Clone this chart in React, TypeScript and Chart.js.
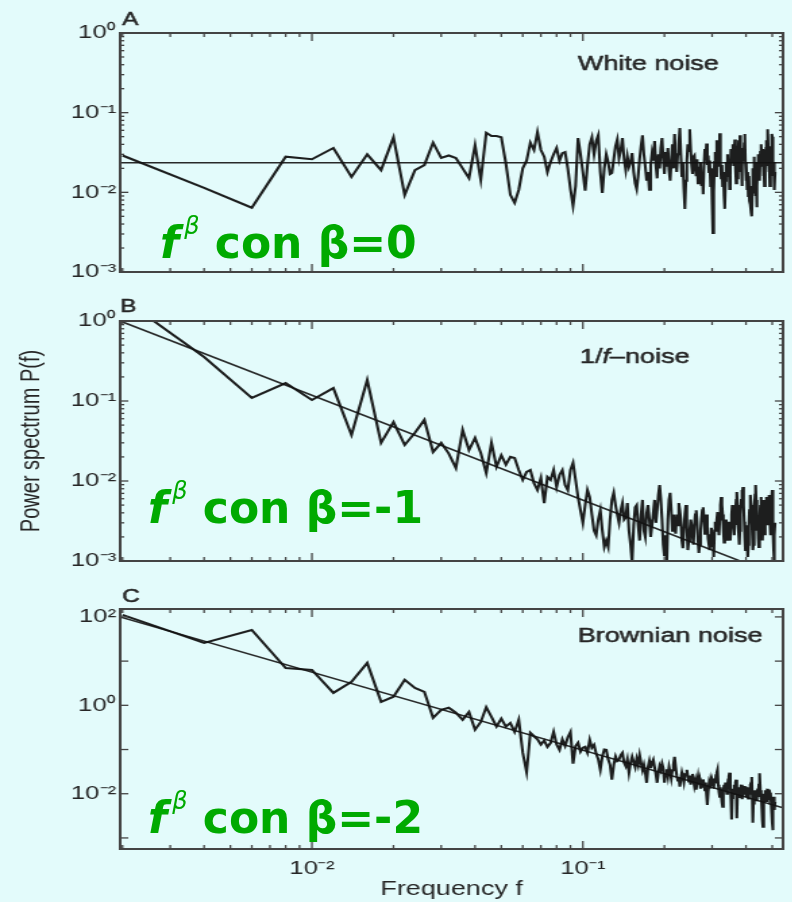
import React, { useEffect, useRef } from "react";
import { Chart, registerables } from "chart.js";

Chart.register(...registerables);

// ---------------- data ----------------
// spectral resolution of the three periodograms: f = k * 0.002, k = 1..256
const FREQ_STEP = 0.002;

const WHITE_NOISE = [
  0.029, 0.0114, 0.0064, 0.028, 0.026, 0.036, 0.0156, 0.030, 0.019, 0.049,
  0.0093, 0.019, 0.022, 0.042, 0.027, 0.029, 0.027, 0.020, 0.0151, 0.039,
  0.0143, 0.056, 0.051, 0.051, 0.049, 0.023, 0.0093, 0.0074, 0.0107, 0.020,
  0.025, 0.042, 0.034, 0.057, 0.034, 0.028, 0.018, 0.024, 0.030, 0.036,
  0.025, 0.031, 0.032, 0.020, 0.011, 0.0068, 0.012, 0.048, 0.030, 0.018,
  0.0105, 0.022, 0.040, 0.049, 0.030, 0.044, 0.052, 0.018, 0.0098, 0.020,
  0.030, 0.024, 0.017, 0.0175, 0.026, 0.038, 0.046, 0.027, 0.034, 0.048,
  0.026, 0.019, 0.028, 0.021, 0.024, 0.031, 0.018, 0.013, 0.011, 0.016,
  0.026, 0.038, 0.052, 0.030, 0.021, 0.014, 0.018, 0.0108, 0.022, 0.031,
  0.025, 0.044, 0.022, 0.015, 0.030, 0.020, 0.036, 0.048, 0.026, 0.017,
  0.032, 0.021, 0.036, 0.019, 0.014, 0.024, 0.040, 0.020, 0.054, 0.028,
  0.018, 0.030, 0.041, 0.064, 0.030, 0.016, 0.024, 0.011, 0.0062, 0.014,
  0.025, 0.040, 0.033, 0.062, 0.035, 0.022, 0.017, 0.028, 0.029, 0.020,
  0.016, 0.026, 0.013, 0.021, 0.015, 0.024, 0.012, 0.018, 0.0095, 0.022,
  0.035, 0.026, 0.041, 0.022, 0.029, 0.018, 0.025, 0.012, 0.020, 0.0075,
  0.0031, 0.010, 0.024, 0.032, 0.016, 0.045, 0.027, 0.038, 0.021, 0.055,
  0.024, 0.015, 0.022, 0.012, 0.018, 0.009, 0.0062, 0.014, 0.024, 0.019,
  0.030, 0.016, 0.026, 0.011, 0.021, 0.035, 0.032, 0.024, 0.040, 0.022,
  0.034, 0.046, 0.020, 0.013, 0.026, 0.015, 0.031, 0.045, 0.022, 0.052,
  0.018, 0.028, 0.012, 0.021, 0.036, 0.025, 0.041, 0.054, 0.024, 0.014,
  0.022, 0.011, 0.018, 0.009, 0.016, 0.0078, 0.012, 0.0070, 0.0055, 0.0050,
  0.010, 0.020, 0.015, 0.028, 0.013, 0.024, 0.009, 0.016, 0.0065, 0.012,
  0.022, 0.030, 0.018, 0.026, 0.014, 0.033, 0.021, 0.040, 0.025, 0.034,
  0.034, 0.016, 0.024, 0.012, 0.028, 0.019, 0.036, 0.045, 0.022, 0.055,
  0.062, 0.030, 0.018, 0.026, 0.012, 0.022, 0.038, 0.027, 0.054, 0.050,
  0.030, 0.016, 0.024, 0.012, 0.0107, 0.018,
];

const PINK_NOISE = [
  1.9, 0.355, 0.109, 0.168, 0.103, 0.145, 0.0376, 0.183, 0.030, 0.0546,
  0.0282, 0.040, 0.058, 0.023, 0.030, 0.022, 0.0145, 0.0435, 0.0244, 0.0345,
  0.0224, 0.0126, 0.030, 0.015, 0.021, 0.016, 0.020, 0.0194, 0.0137, 0.0103,
  0.0130, 0.0137, 0.0094, 0.0077, 0.0109, 0.0053, 0.0112, 0.0103, 0.0137, 0.0084,
  0.0119, 0.0137, 0.0089, 0.0077, 0.0137, 0.0168, 0.0103, 0.0063, 0.0043, 0.0030,
  0.0050, 0.0077, 0.0063, 0.0038, 0.0024, 0.0021, 0.0033, 0.0043, 0.0024, 0.0015,
  0.0018, 0.0015, 0.0033, 0.0058, 0.0071, 0.0050, 0.0038, 0.0030, 0.0043, 0.0053,
  0.0033, 0.0035, 0.0053, 0.0024, 0.0016, 0.00095, 0.0028, 0.0047, 0.0050, 0.0028,
  0.0018, 0.0038, 0.0058, 0.0024, 0.0020, 0.0040, 0.0050, 0.0033, 0.0020, 0.0028,
  0.0040, 0.0058, 0.0030, 0.0043, 0.0067, 0.0089, 0.0058, 0.0033, 0.0016, 0.00115,
  0.0021, 0.00095, 0.0033, 0.0058, 0.0071, 0.0043, 0.0024, 0.0038, 0.0028, 0.0022,
  0.0038, 0.0028, 0.0053, 0.0043, 0.0033, 0.0018, 0.00145, 0.0024, 0.0038, 0.0050,
  0.0028, 0.00137, 0.0018, 0.0024, 0.0033, 0.0028, 0.0020, 0.0016, 0.0028, 0.0038,
  0.0043, 0.0031, 0.0018, 0.00126, 0.0016, 0.0024, 0.0034, 0.0043, 0.0047, 0.0033,
  0.0022, 0.0027, 0.0038, 0.0028, 0.0019, 0.0016, 0.00137, 0.0021, 0.0026, 0.0015,
  0.0021, 0.00112, 0.0024, 0.0031, 0.0024, 0.0033, 0.0041, 0.0030, 0.0021, 0.0033,
  0.0050, 0.0063, 0.0050, 0.0038, 0.0024, 0.0017, 0.0018, 0.0026, 0.0033, 0.0023,
  0.0018, 0.0022, 0.0031, 0.0024, 0.0018, 0.0027, 0.0038, 0.0050, 0.0041, 0.0027,
  0.0021, 0.0029, 0.0043, 0.0058, 0.0073, 0.0050, 0.0033, 0.0021, 0.0016, 0.0024,
  0.0038, 0.0058, 0.0077, 0.0067, 0.0084, 0.0050, 0.0031, 0.0019, 0.00137, 0.0018,
  0.0028, 0.0016, 0.00112, 0.0016, 0.0028, 0.0043, 0.0058, 0.0067, 0.0050, 0.0033,
  0.0021, 0.00137, 0.0016, 0.0024, 0.0043, 0.0067, 0.0089, 0.0058, 0.0038, 0.0024,
  0.0033, 0.0019, 0.0015, 0.0021, 0.0033, 0.0050, 0.0063, 0.0043, 0.0024, 0.0018,
  0.0028, 0.0043, 0.0058, 0.0033, 0.0021, 0.0038, 0.0055, 0.0063, 0.0043, 0.0028,
  0.0033, 0.0050, 0.0067, 0.0050, 0.0033, 0.0021, 0.0028, 0.0043, 0.0063, 0.0077,
  0.0050, 0.0024, 0.00137, 0.00095, 0.0021, 0.0030,
];

const BROWN_NOISE = [
  111, 25.8, 50.8, 7.0, 6.3, 1.91, 3.4, 9.1, 1.2, 1.56,
  3.77, 2.48, 2.02, 0.52, 0.79, 0.88, 0.68, 0.47, 0.71, 0.28,
  0.42, 0.90, 0.55, 0.33, 0.50, 0.33, 0.40, 0.25, 0.47, 0.085,
  0.031, 0.24, 0.20, 0.17, 0.13, 0.16, 0.115, 0.14, 0.25, 0.13,
  0.0986, 0.17, 0.12, 0.19, 0.25, 0.048, 0.12, 0.142, 0.09, 0.11,
  0.115, 0.085, 0.166, 0.11, 0.128, 0.08, 0.06, 0.035, 0.07, 0.10,
  0.0986, 0.06, 0.045, 0.0207, 0.045, 0.07, 0.055, 0.0586, 0.075, 0.0845,
  0.05, 0.042, 0.06, 0.030, 0.05, 0.0686, 0.052, 0.04, 0.062, 0.045,
  0.075, 0.05, 0.034, 0.045, 0.03, 0.0177, 0.04, 0.055, 0.038, 0.05,
  0.0586, 0.04, 0.028, 0.0177, 0.03, 0.042, 0.035, 0.048, 0.038,
  0.0177, 0.028, 0.036, 0.025, 0.040, 0.030, 0.022, 0.034, 0.045, 0.0686,
  0.040, 0.026, 0.020, 0.024, 0.0144, 0.022, 0.030, 0.024, 0.018, 0.026,
  0.028, 0.0348, 0.024, 0.019, 0.026, 0.016, 0.022, 0.028, 0.020, 0.015,
  0.019, 0.0123, 0.018, 0.024, 0.016, 0.020, 0.013, 0.017, 0.0144, 0.021,
  0.016, 0.012, 0.018, 0.0095, 0.0056, 0.011, 0.016, 0.013, 0.019, 0.015,
  0.0207, 0.018, 0.013, 0.022, 0.017, 0.026, 0.030, 0.0348, 0.016, 0.011,
  0.0086, 0.014, 0.010, 0.0065, 0.0051, 0.011, 0.016, 0.012, 0.018, 0.013,
  0.010, 0.016, 0.021, 0.025, 0.0298, 0.015, 0.0075, 0.0026, 0.008, 0.013,
  0.010, 0.016, 0.012, 0.018, 0.0207, 0.0028, 0.010, 0.014, 0.0095, 0.013,
  0.0085, 0.012, 0.016, 0.011, 0.0075, 0.012, 0.0095, 0.015, 0.010, 0.013,
  0.0085, 0.0144, 0.010, 0.012, 0.0078, 0.011, 0.014, 0.0095, 0.016, 0.018,
  0.024, 0.009, 0.0022, 0.006, 0.010, 0.0075, 0.012, 0.0085, 0.011, 0.0068,
  0.010, 0.013, 0.0085, 0.016, 0.022, 0.029, 0.012, 0.0075, 0.0105, 0.0045,
  0.0025, 0.0018, 0.006, 0.010, 0.0078, 0.012, 0.0085, 0.011, 0.0065, 0.0095,
  0.013, 0.0085, 0.011, 0.0072, 0.0123, 0.0105, 0.0075, 0.010, 0.0055, 0.0035,
  0.0022, 0.0015, 0.005, 0.0085, 0.006, 0.0043, 0.0065,
];

// straight-line fits (end points at the two ends of the frequency axis)
const FIT_F = [0.00196, 0.548];
const FIT_WHITE = [0.0235, 0.0235];
const FIT_PINK = [1.0, 0.00062];
const FIT_BROWN = [100, 0.0048];

// axes
const X_RANGE = [0.00196, 0.548];
const X_TICKS = [0.01, 0.1];
const X_TICK_LABELS = ["10⁻²", "10⁻¹"];
const Y_RANGE_AB = [0.001, 1];
const Y_TICKS_AB = [1, 0.1, 0.01, 0.001];
const Y_TICK_LABELS_AB = ["10⁰", "10⁻¹", "10⁻²", "10⁻³"];
const Y_RANGE_C = [0.000562, 151];
const Y_TICKS_C = [100, 1, 0.01];
const Y_TICK_LABELS_C = ["10²", "10⁰", "10⁻²"];

const PANEL_LETTERS = ["A", "B", "C"];
const TITLE_A = [{ text: "White noise" }];
const TITLE_B = [{ text: "1/" }, { text: "f", italic: true }, { text: "–noise" }];
const TITLE_C = [{ text: "Brownian noise" }];
const BETAS = ["0", "-1", "-2"];
const Y_TITLE = "Power spectrum P(f)";
const X_TITLE = "Frequency f";

// ---------------- styling ----------------
const STRETCH = 1.35; // the original figure is stretched horizontally
const CANVAS_W = 587;
const TEXT = "#262626";
const FONT = '"Liberation Sans", Arial, sans-serif';
const GREEN = "#00aa00";
const BG = "#e3fbfb";

const FREQS = WHITE_NOISE.map((_, i) => (i + 1) * FREQ_STEP);

const decorPlugin = {
  id: "decor",
  afterDatasetsDraw(chart: any, _args: any, opts: any) {
    const { ctx, chartArea: a, scales } = chart;
    const xs = scales.x;
    const ys = scales.y;
    ctx.save();
    ctx.strokeStyle = "#444444";
    ctx.lineWidth = 2;
    ctx.strokeRect(a.left, a.top, a.right - a.left, a.bottom - a.top);
    ctx.lineWidth = 1.3;
    const seg = (x1: number, y1: number, x2: number, y2: number) => {
      ctx.beginPath();
      ctx.moveTo(x1, y1);
      ctx.lineTo(x2, y2);
      ctx.stroke();
    };
    // x tick marks (inward, top and bottom)
    for (let e = -3; e <= 0; e++) {
      for (let m = 1; m <= 9; m++) {
        const v = m * Math.pow(10, e);
        if (v < xs.min || v > xs.max) continue;
        const x = xs.getPixelForValue(v);
        const len = m === 1 ? 8 : 4;
        seg(x, a.top, x, a.top + len);
        seg(x, a.bottom, x, a.bottom - len);
      }
    }
    // y tick marks (inward, left and right)
    const e0 = Math.floor(Math.log10(ys.min));
    const e1 = Math.ceil(Math.log10(ys.max));
    for (let e = e0; e <= e1; e++) {
      for (let m = 1; m <= 9; m++) {
        if (m > 1 && !opts.yMinor) continue;
        const v = m * Math.pow(10, e);
        if (v < ys.min * 0.999 || v > ys.max * 1.001) continue;
        const y = ys.getPixelForValue(v);
        const len = m === 1 ? 6 : 3;
        seg(a.left, y, a.left + len, y);
        seg(a.right, y, a.right - len, y);
      }
    }
    // texts
    ctx.fillStyle = TEXT;
    ctx.strokeStyle = TEXT;
    ctx.lineWidth = 0.5;
    ctx.textBaseline = "alphabetic";
    ctx.textAlign = "left";
    ctx.font = `18px ${FONT}`;
    ctx.fillText(opts.letter, opts.letterX, opts.letterY);
    ctx.strokeText(opts.letter, opts.letterX, opts.letterY);
    let x = opts.titleX;
    for (const part of opts.title) {
      ctx.font = `${part.italic ? "italic " : ""}20px ${FONT}`;
      ctx.fillText(part.text, x, opts.titleY);
      ctx.strokeText(part.text, x, opts.titleY);
      x += ctx.measureText(part.text).width;
    }
    ctx.restore();
  },
};

const PANELS = [
  {
    top: 0, height: 290, padTop: 33, padBottom: 18,
    values: WHITE_NOISE, fit: FIT_WHITE,
    yRange: Y_RANGE_AB, yTicks: Y_TICKS_AB, yLabels: Y_TICK_LABELS_AB, yMinor: true,
    yTitle: false, xAxis: false,
    letter: PANEL_LETTERS[0], letterX: 90.4, letterY: 25,
    title: TITLE_A, titleX: 428, titleY: 70,
    beta: BETAS[0], greenLeft: 160, greenBase: 258,
  },
  {
    top: 290, height: 290, padTop: 31, padBottom: 19,
    values: PINK_NOISE, fit: FIT_PINK,
    yRange: Y_RANGE_AB, yTicks: Y_TICKS_AB, yLabels: Y_TICK_LABELS_AB, yMinor: true,
    yTitle: true, xAxis: false,
    letter: PANEL_LETTERS[1], letterX: 88.9, letterY: 22,
    title: TITLE_B, titleX: 429.6, titleY: 73,
    beta: BETAS[1], greenLeft: 148, greenBase: 523,
  },
  {
    top: 580, height: 322, padTop: 29, padBottom: 0,
    values: BROWN_NOISE, fit: FIT_BROWN,
    yRange: Y_RANGE_C, yTicks: Y_TICKS_C, yLabels: Y_TICK_LABELS_C, yMinor: false,
    yTitle: false, xAxis: true,
    letter: PANEL_LETTERS[2], letterX: 90.4, letterY: 22,
    title: TITLE_C, titleX: 428, titleY: 62,
    beta: BETAS[2], greenLeft: 148, greenBase: 833,
  },
];

function makeChart(canvas: HTMLCanvasElement, p: any) {
  const points = p.values.map((v: number, i: number) => ({ x: FREQS[i], y: v }));
  const fit = p.fit.map((v: number, i: number) => ({ x: FIT_F[i], y: v }));
  const tickFont = { family: FONT, size: 19 };
  return new Chart(canvas, {
    type: "line",
    data: {
      datasets: [
        {
          data: points,
          borderColor: "rgba(18,18,18,0.95)",
          borderWidth: 2.1,
          pointRadius: 0,
          tension: 0,
          fill: false,
        },
        {
          data: fit,
          borderColor: "rgba(30,30,30,0.95)",
          borderWidth: 1.6,
          pointRadius: 0,
          tension: 0,
          fill: false,
        },
      ],
    },
    options: {
      animation: false,
      responsive: false,
      events: [],
      layout: { padding: { top: p.padTop, bottom: p.padBottom, left: 0, right: 7 } },
      plugins: {
        legend: { display: false },
        tooltip: { enabled: false },
        decor: {
          yMinor: p.yMinor,
          letter: p.letter, letterX: p.letterX, letterY: p.letterY,
          title: p.title, titleX: p.titleX, titleY: p.titleY,
        },
      } as any,
      scales: {
        x: {
          type: "logarithmic",
          min: X_RANGE[0],
          max: X_RANGE[1],
          display: p.xAxis,
          afterBuildTicks: (s: any) => {
            s.ticks = X_TICKS.map((value) => ({ value }));
          },
          afterFit: (s: any) => {
            s.height = p.xAxis ? 53 : 0;
          },
          ticks: {
            autoSkip: false,
            maxRotation: 0,
            padding: 8,
            font: tickFont,
            color: TEXT,
            callback: (v: any) => {
              const i = X_TICKS.indexOf(Number(v));
              return i >= 0 ? X_TICK_LABELS[i] : "";
            },
          },
          grid: { display: false, drawTicks: false },
          border: { display: false },
          title: {
            display: p.xAxis,
            text: X_TITLE,
            color: TEXT,
            font: { family: FONT, size: 20 },
            padding: { top: 0, bottom: 1 },
          },
        },
        y: {
          type: "logarithmic",
          min: p.yRange[0],
          max: p.yRange[1],
          afterBuildTicks: (s: any) => {
            s.ticks = p.yTicks.map((value: number) => ({ value }));
          },
          afterFit: (s: any) => {
            s.width = 89;
          },
          ticks: {
            autoSkip: false,
            padding: 3,
            font: tickFont,
            color: TEXT,
            callback: (v: any) => {
              const i = p.yTicks.indexOf(Number(v));
              return i >= 0 ? p.yLabels[i] : "";
            },
          },
          grid: { display: false, drawTicks: false },
          border: { display: false },
          title: {
            display: p.yTitle,
            text: Y_TITLE,
            color: TEXT,
            font: { family: FONT, size: 20 },
            padding: { top: 11, bottom: 0 },
          },
        },
      },
    } as any,
    plugins: [decorPlugin as any],
  });
}

function Panel({ p }: { p: any }) {
  const ref = useRef<HTMLCanvasElement>(null);
  useEffect(() => {
    const chart = makeChart(ref.current as HTMLCanvasElement, p);
    return () => chart.destroy();
  }, [p]);
  return (
    <div
      style={{
        position: "absolute",
        left: 0,
        top: p.top,
        width: CANVAS_W,
        height: p.height,
        transform: `scaleX(${STRETCH})`,
        transformOrigin: "0 0",
      }}
    >
      <canvas
        ref={ref}
        width={CANVAS_W}
        height={p.height}
        style={{ display: "block", width: CANVAS_W, height: p.height }}
      />
    </div>
  );
}

function GreenLabel({ left, baseline, beta }: { left: number; baseline: number; beta: string }) {
  // DejaVu Sans: ascent 0.928 em, descent 0.236 em; line-height = font size
  const size = 44;
  const baseOffset = size * 0.928 - (size * 1.164 - size) / 2;
  return (
    <div
      style={{
        position: "absolute",
        left,
        top: baseline - baseOffset,
        fontFamily: '"DejaVu Sans", Verdana, sans-serif',
        fontWeight: "bold",
        fontSize: size,
        lineHeight: `${size}px`,
        color: GREEN,
        whiteSpace: "nowrap",
      }}
    >
      <span style={{ fontStyle: "italic" }}>f</span>
      <span
        style={{
          fontSize: 24,
          fontStyle: "italic",
          fontWeight: "normal",
          position: "relative",
          top: -24,
          marginLeft: 5,
        }}
      >
        β
      </span>
      {" con β=" + beta}
    </div>
  );
}

export default function App() {
  return (
    <div
      style={{
        position: "fixed",
        left: 0,
        top: 0,
        width: 792,
        height: 902,
        background: BG,
        overflow: "hidden",
      }}
    >
      {PANELS.map((p, i) => (
        <Panel key={i} p={p} />
      ))}
      {PANELS.map((p, i) => (
        <GreenLabel key={"g" + i} left={p.greenLeft} baseline={p.greenBase} beta={p.beta} />
      ))}
    </div>
  );
}
